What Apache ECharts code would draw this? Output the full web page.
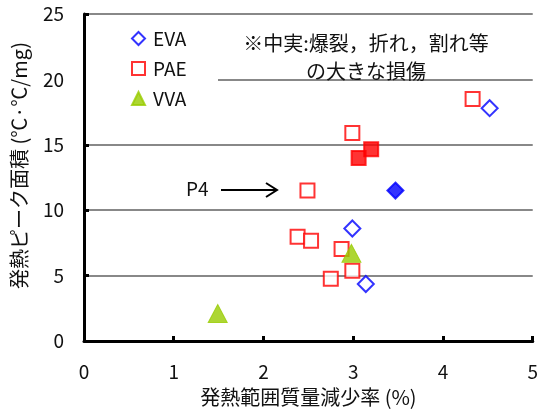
<!DOCTYPE html>
<html>
<head>
<meta charset="utf-8">
<script src="https://cdn.jsdelivr.net/npm/echarts@6/dist/echarts.min.js"></script>
<style>
  html, body { margin: 0; padding: 0; background: #fff; }
  #chart { width: 541px; height: 414px; }
</style>
</head>
<body>
<div id="chart"></div>
<script>
// data: [x %, y ℃·℃/mg]
var evaOpen = [[4.52, 17.8], [2.99, 8.6], [3.14, 4.36]];
var evaSolid = [[3.47, 11.5]];
var paeOpen = [[4.33, 18.5], [2.99, 15.9], [2.49, 11.5], [2.38, 7.97], [2.53, 7.67],
  [2.87, 7.03], [2.99, 5.37], [2.75, 4.76]];
var paeSolid = [[3.06, 14.0], [3.20, 14.66]];
var vvaSolid = [[2.98, 6.7], [1.49, 2.1]];
var xTicks = [0, 1, 2, 3, 4, 5];
var yTicks = [0, 5, 10, 15, 20, 25];

var FONT = '"Noto Sans CJK JP", sans-serif';
var chart = echarts.init(document.getElementById('chart'));

var option = {
  animation: false,
  grid: { left: 84, right: 5, top: 14, bottom: 73 },
  xAxis: {
    type: 'value',
    min: xTicks[0], max: xTicks[xTicks.length - 1], interval: 1,
    name: '発熱範囲質量減少率 (%)',
    nameLocation: 'middle',
    nameGap: 46,
    nameTextStyle: { color: '#111', fontSize: 20, fontFamily: FONT },
    axisLine: { lineStyle: { color: '#000', width: 3 } },
    axisTick: { inside: true, length: 5, lineStyle: { color: '#000', width: 3 } },
    axisLabel: { margin: 21, color: '#111', fontSize: 19, fontFamily: FONT },
    splitLine: { show: false }
  },
  yAxis: {
    type: 'value',
    min: yTicks[0], max: yTicks[yTicks.length - 1], interval: 5,
    name: '発熱ピーク面積 (℃·℃/mg)',
    nameLocation: 'middle',
    nameGap: 55,
    nameRotate: 90,
    nameTextStyle: { color: '#111', fontSize: 20, fontFamily: FONT, padding: [0, 0, 0, 24] },
    axisLine: { lineStyle: { color: '#000', width: 3 } },
    axisTick: { inside: true, length: 5, lineStyle: { color: '#000', width: 3 } },
    axisLabel: { margin: 20, color: '#111', fontSize: 19, fontFamily: FONT },
    splitLine: { lineStyle: { color: '#888', width: 2 } }
  },
  legend: {
    orient: 'vertical',
    left: 126, top: 24,
    itemWidth: 13, itemHeight: 13,
    itemGap: 11,
    textStyle: { color: '#111', fontSize: 19, fontFamily: FONT, padding: [0, 0, 0, 3] },
    data: ['EVA', 'PAE', 'VVA'],
    z: 10
  },
  graphic: [
    { type: 'rect', shape: { x: 86, y: 22, width: 132, height: 95 },
      style: { fill: '#fff' }, z: 5 },
    { type: 'text', style: {
        text: '※中実:爆裂，折れ，割れ等\nの大きな損傷',
        x: 366, y: 29, align: 'center', verticalAlign: 'top',
        font: '20px ' + FONT, fill: '#111', lineHeight: 28 }, z: 6 },
    { type: 'text', style: { text: 'P4', x: 186, y: 189, verticalAlign: 'middle',
        font: '19px ' + FONT, fill: '#111' }, z: 6 },
    { type: 'line', shape: { x1: 221, y1: 190, x2: 277, y2: 190 },
      style: { stroke: '#000', lineWidth: 2 }, z: 6 },
    { type: 'polyline', shape: { points: [[266, 183], [277, 190], [266, 197]] },
      style: { stroke: '#000', lineWidth: 2, fill: null }, z: 6 }
  ],
  series: [
    { name: 'EVA', type: 'scatter', symbol: 'diamond', symbolSize: 16,
      itemStyle: { color: '#fff', borderColor: '#0000ff', borderWidth: 2 },
      data: evaOpen.concat(evaSolid.map(function (p) {
        return { value: p, itemStyle: { color: '#0000ff' } };
      })) },
    { name: 'PAE', type: 'scatter', symbol: 'rect', symbolSize: 14,
      itemStyle: { color: '#fff', borderColor: '#ff0000', borderWidth: 2 },
      data: paeOpen.concat(paeSolid.map(function (p) {
        return { value: p, itemStyle: { color: '#ff0000' } };
      })) },
    { name: 'VVA', type: 'scatter', symbol: 'triangle', symbolSize: [19, 18],
      itemStyle: { color: '#99cc00', borderColor: '#99cc00', borderWidth: 1 },
      data: vvaSolid }
  ]
};
chart.setOption(option);
</script>
</body>
</html>
